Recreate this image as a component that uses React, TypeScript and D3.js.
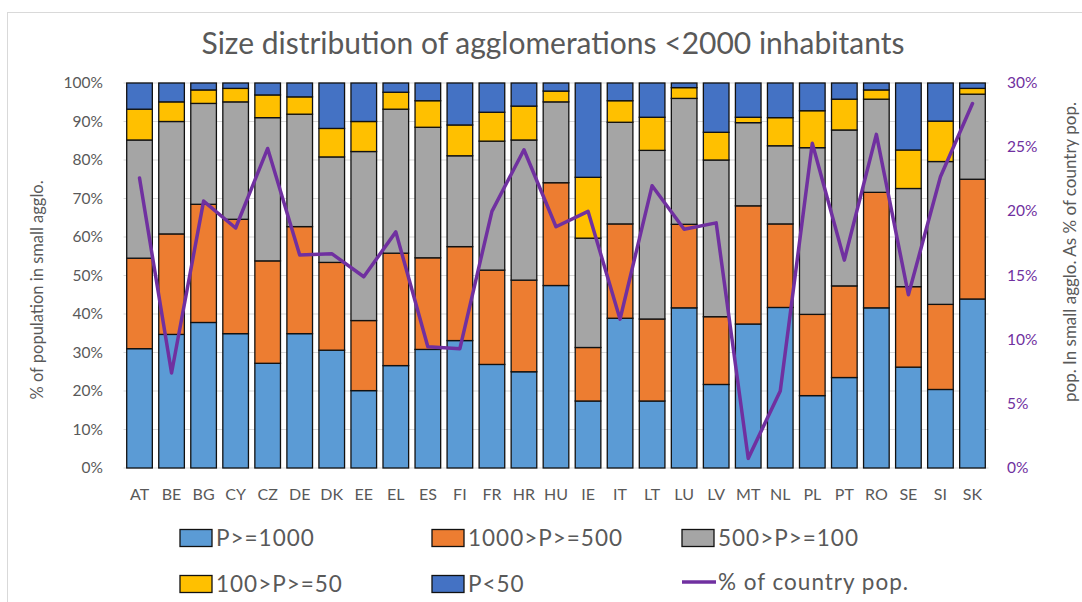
import React from "react";
import * as d3 from "d3";

const cats = ["AT","BE","BG","CY","CZ","DE","DK","EE","EL","ES","FI","FR","HR","HU","IE","IT","LT","LU","LV","MT","NL","PL","PT","RO","SE","SI","SK"];
const p1000 = [31,34.7,37.8,34.9,27.2,34.9,30.6,20.1,26.6,30.8,33.1,26.9,25.0,47.4,17.4,38.9,17.4,41.6,21.7,37.4,41.7,18.8,23.5,41.6,26.2,20.4,43.9];
const p500 = [23.5,26.1,30.7,29.7,26.6,27.8,22.8,18.2,29.2,23.8,24.4,24.5,23.8,26.7,13.9,24.5,21.3,21.7,17.6,30.7,21.7,21.1,23.8,30.0,20.9,22.1,31.1];
const p100 = [30.7,29.2,26.2,30.5,37.2,29.2,27.4,43.9,37.4,33.9,23.6,33.5,36.4,21.0,28.4,26.4,43.8,32.7,40.7,21.6,20.3,43.3,40.5,24.2,25.5,37.1,22.1];
const p50 = [8.0,5.1,3.5,3.5,5.9,4.5,7.4,7.8,4.4,6.9,8.0,7.5,8.8,2.8,15.8,5.6,8.6,2.8,7.2,1.4,7.3,9.6,8.0,2.4,10.0,10.5,1.5];
const pLow = [6.8,4.9,1.8,1.4,3.1,3.6,11.8,10.0,2.4,4.6,10.9,7.6,6.0,2.1,24.5,4.6,8.9,1.2,12.8,8.9,9.0,7.2,4.2,1.8,17.4,9.9,1.4];
const countryPop = [22.6,7.4,20.8,18.7,24.9,16.6,16.7,14.9,18.4,9.45,9.3,20.0,24.8,18.8,20.0,11.6,22.0,18.6,19.1,0.75,6.0,25.3,16.2,26.0,13.5,22.7,28.4];

const seriesNames = ["P>=1000","1000>P>=500","500>P>=100","100>P>=50","P<50"];
const seriesColors = ["#5B9BD5","#ED7D31","#A5A5A5","#FFC000","#4472C4"];
const leftTicks = [0,10,20,30,40,50,60,70,80,90,100];
const rightTicks = [0,5,10,15,20,25,30];
const lineName = "% of country pop.";

const FONT = "Lato, 'Open Sans', sans-serif";
const GREY = "#595959";
const PURPLE = "#7030A0";

export default function App() {
  const W = 1082, H = 602;
  const left = 123.5, right = 988.5, top = 83, bottom = 468;
  const x = d3.scaleBand().domain(cats).range([left, right]).paddingInner(0.2).paddingOuter(0.1);
  const y = d3.scaleLinear().domain([0, 100]).range([bottom, top]);
  const y2 = d3.scaleLinear().domain([0, 30]).range([bottom, top]);

  const rows = cats.map((c, i) => {
    const vals = [p1000[i], p500[i], p100[i], p50[i], pLow[i]];
    const total = d3.sum(vals);
    const o: any = { cat: c };
    seriesNames.forEach((s, k) => (o[s] = (vals[k] / total) * 100));
    return o;
  });
  const stacked = d3.stack().keys(seriesNames)(rows);
  const line = d3.line<number>().x((_, i) => (x(cats[i]) as number) + x.bandwidth() / 2).y((d) => y2(d));

  const legendItems = [
    { name: seriesNames[0], col: 180, row: 538, type: "rect", color: seriesColors[0] },
    { name: seriesNames[1], col: 432, row: 538, type: "rect", color: seriesColors[1] },
    { name: seriesNames[2], col: 682, row: 538, type: "rect", color: seriesColors[2] },
    { name: seriesNames[3], col: 180, row: 584, type: "rect", color: seriesColors[3] },
    { name: seriesNames[4], col: 432, row: 584, type: "rect", color: seriesColors[4] },
    { name: lineName, col: 682, row: 582, type: "line", color: PURPLE },
  ];

  return (
    <svg width={W} height={H} style={{ position: "absolute", left: 0, top: 0 }} fontFamily={FONT}>
      <rect x={0} y={0} width={W} height={H} fill="#fff" />
      <rect x={7.5} y={12.5} width={W + 10} height={H} fill="#fff" stroke="#d9d9d9" strokeWidth={1} />
      <text x={553} y={54} textAnchor="middle" fontSize={30} fill={GREY} fontWeight={400}>
        Size distribution of agglomerations &lt;2000 inhabitants
      </text>
      {leftTicks.map((t) => (
        <g key={"g" + t}>
          <line x1={left} x2={right} y1={y(t)} y2={y(t)} stroke="#d9d9d9" strokeWidth={1} />
          <text x={103} y={y(t) + 5} textAnchor="end" fontSize={15.5} fill={GREY}>{t}%</text>
        </g>
      ))}
      {rightTicks.map((t) => (
        <text key={"r" + t} x={1007} y={y2(t) + 5} textAnchor="start" fontSize={15.5} fill={PURPLE}>{t}%</text>
      ))}
      <text transform={`translate(43,290) rotate(-90)`} textAnchor="middle" fontSize={16.5} fill={GREY}>
        % of population in small agglo.
      </text>
      <text transform={`translate(1076,252) rotate(-90)`} textAnchor="middle" fontSize={17} fill={GREY}>
        pop. In small agglo. As % of country pop.
      </text>
      {stacked.map((s, k) => (
        <g key={s.key} fill={seriesColors[k]}>
          {s.map((d, i) => (
            <rect key={i} x={x(cats[i])} y={y(d[1])} width={x.bandwidth()} height={y(d[0]) - y(d[1])} stroke="#111" strokeWidth={1.3} />
          ))}
        </g>
      ))}
      <path d={line(countryPop) || ""} fill="none" stroke={PURPLE} strokeWidth={3.5} strokeLinejoin="round" strokeLinecap="round" />
      {cats.map((c) => (
        <text key={"x" + c} x={(x(c) as number) + x.bandwidth() / 2} y={500} textAnchor="middle" fontSize={16} fill={GREY}>{c}</text>
      ))}
      {legendItems.map((it) => (
        <g key={it.name}>
          {it.type === "rect" ? (
            <rect x={it.col} y={it.row - 8.5} width={32} height={17} fill={it.color} stroke="#111" strokeWidth={1.3} />
          ) : (
            <line x1={it.col} x2={it.col + 34} y1={it.row} y2={it.row} stroke={it.color} strokeWidth={3.5} />
          )}
          <text x={it.col + 36} y={it.row + 8} fontSize={22.5} letterSpacing={1} fill={GREY}>{it.name}</text>
        </g>
      ))}
    </svg>
  );
}
